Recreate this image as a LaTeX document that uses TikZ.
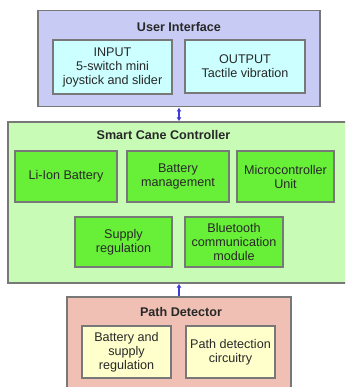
\documentclass[tikz,border=0pt]{standalone}
\usepackage{fontspec}
\setmainfont{Liberation Sans}
\usetikzlibrary{arrows.meta}
\definecolor{uiback}{RGB}{200,204,244}
\definecolor{uiin}{RGB}{204,255,255}
\definecolor{sccback}{RGB}{200,252,182}
\definecolor{sccin}{RGB}{104,240,56}
\definecolor{pdback}{RGB}{240,192,180}
\definecolor{pdin}{RGB}{255,255,204}
\definecolor{edge}{RGB}{120,120,120}
\definecolor{arrblue}{RGB}{60,60,220}
\definecolor{txt}{RGB}{40,40,40}
\tikzset{
  panel/.style={draw=edge, line width=1.3pt, inner sep=0pt, anchor=center},
  inbox/.style={draw=edge, line width=1.1pt, inner sep=0pt, align=center, text=txt,
    font=\fontsize{12.6}{14}\selectfont},
  ttl/.style={font=\bfseries\fontsize{12.6}{14}\selectfont, text=txt, inner sep=0pt},
  conn/.style={draw=arrblue, line width=1.2pt, -{Latex[length=4pt,width=5pt]}},
  conn2/.style={draw=arrblue, line width=1.2pt, {Latex[length=4pt,width=5pt]}-{Latex[length=4pt,width=5pt]}}
}
\begin{document}
\begin{tikzpicture}[x=1pt,y=-1pt]
\useasboundingbox (0,0) rectangle (345,387);
\clip (0,0) rectangle (345,387);
\fill[white] (0,0) rectangle (345,387);
% User Interface
\node[panel, fill=uiback, minimum width=282pt, minimum height=96pt] (ui) at (179,58.8) {};
\node[ttl] (uit) at (179,27) {User Interface};
\node[inbox, fill=uiin, minimum width=119pt, minimum height=54pt] (input) at (112.5,67) {INPUT\\5-switch mini\\joystick and slider};
\node[inbox, fill=uiin, minimum width=120pt, minimum height=53pt] (output) at (245,66.5) {OUTPUT\\Tactile vibration};
% Smart Cane Controller
\node[panel, fill=sccback, minimum width=342pt, minimum height=161pt] (scc) at (179,202.5) {};
\node[ttl] (scct) at (163.5,135) {Smart Cane Controller};
\node[inbox, fill=sccin, minimum width=102pt, minimum height=51pt] (li) at (66,176.5) {Li-Ion Battery};
\node[inbox, fill=sccin, minimum width=102pt, minimum height=51pt] (bm) at (178,176.5) {Battery\\management};
\node[inbox, fill=sccin, minimum width=97pt, minimum height=51pt] (mcu) at (285.5,176.5) {Microcontroller\\Unit};
\node[inbox, fill=sccin, minimum width=97pt, minimum height=50pt] (sup) at (123.5,242) {Supply\\regulation};
\node[inbox, fill=sccin, minimum width=98pt, minimum height=50pt] (bt) at (234,242) {Bluetooth\\communication\\module};
% Path Detector
\node[panel, fill=pdback, minimum width=224pt, minimum height=100pt] (pd) at (179,347) {};
\node[ttl] (pdt) at (181,312) {Path Detector};
\node[inbox, fill=pdin, minimum width=89pt, minimum height=52pt] (bs) at (126.5,352) {Battery and\\supply\\regulation};
\node[inbox, fill=pdin, minimum width=89pt, minimum height=52pt] (pdc) at (230.5,352) {Path detection\\circuitry};
% connectors
\draw[conn2] (ui.south) -- (scc.north);
\draw[conn] (pd.north) -- (scc.south);
\end{tikzpicture}
\end{document}
